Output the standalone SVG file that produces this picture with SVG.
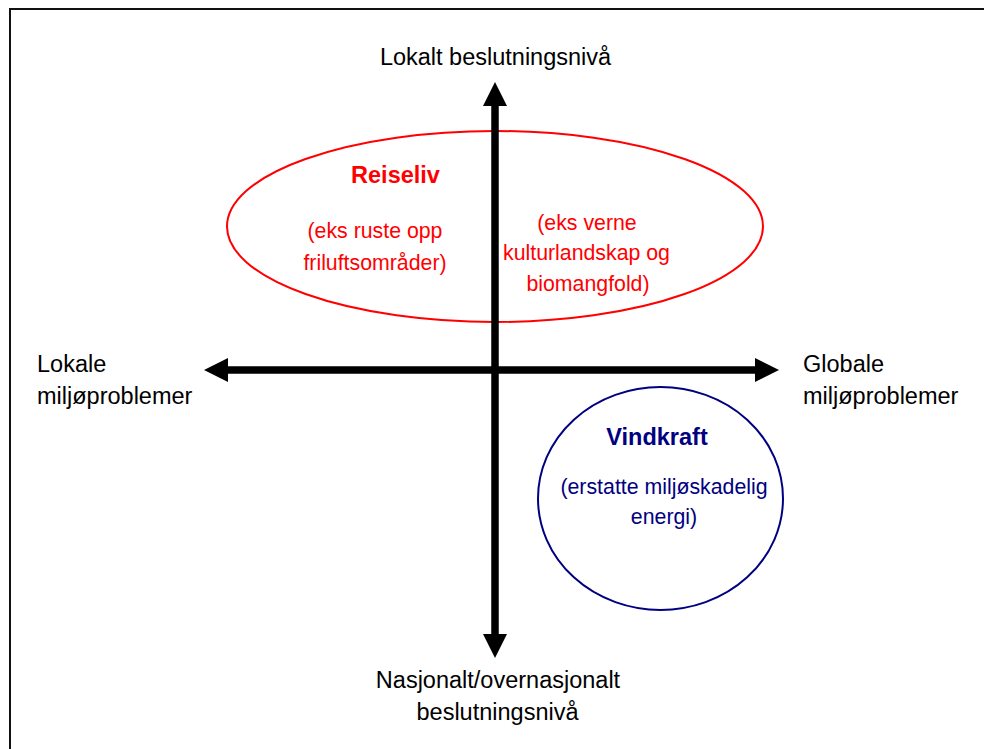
<svg xmlns="http://www.w3.org/2000/svg" width="984" height="749" viewBox="0 0 984 749">
  <style>
    text { font-family: "Liberation Sans", Arial, sans-serif; }
    .axis { font-size: 23.5px; fill: #000; }
    .red { fill: #FF0000; font-size: 21.3px; }
    .blue { fill: #000080; font-size: 21.3px; }
    .title { font-weight: bold; font-size: 23.5px; }
    .mid { text-anchor: middle; }
    .axisline { stroke: #000; stroke-width: 7.5; fill: none; }
  </style>
  <defs>
    <marker id="head" viewBox="0 0 24 24" markerWidth="24" markerHeight="24" refX="0" refY="12" markerUnits="userSpaceOnUse" orient="auto-start-reverse">
      <path d="M0,0 L24,12 L0,24 Z" fill="#000"/>
    </marker>
  </defs>
  <rect x="0" y="0" width="984" height="749" fill="#fff"/>
  <rect id="frame" x="10" y="9" width="1000" height="780" fill="none" stroke="#111" stroke-width="2"/>

  <g id="reiseliv">
    <ellipse cx="495" cy="226.5" rx="268" ry="95.5" fill="none" stroke="#FF0000" stroke-width="2"/>
    <text class="red title mid" x="395.5" y="183">Reiseliv</text>
    <text class="red mid" x="375" y="238">(eks ruste opp</text>
    <text class="red mid" x="375" y="270">friluftsområder)</text>
    <text class="red mid" x="587" y="230">(eks verne</text>
    <text class="red mid" x="586.5" y="260">kulturlandskap og</text>
    <text class="red mid" x="588" y="291">biomangfold)</text>
  </g>

  <g id="vindkraft">
    <ellipse cx="660.5" cy="498.5" rx="122.5" ry="111.5" fill="none" stroke="#000080" stroke-width="2"/>
    <text class="blue title mid" x="657" y="445">Vindkraft</text>
    <text class="blue mid" x="664" y="494">(erstatte miljøskadelig</text>
    <text class="blue mid" x="664" y="524">energi)</text>
  </g>

  <g id="connectors">
    <line class="axisline" x1="228" y1="370" x2="755" y2="370" marker-start="url(#head)" marker-end="url(#head)"/>
    <line class="axisline" x1="495" y1="106" x2="495" y2="634" marker-start="url(#head)" marker-end="url(#head)"/>
  </g>

  <g id="label-top">
    <text class="axis mid" x="495.5" y="65">Lokalt beslutningsnivå</text>
  </g>
  <g id="label-left">
    <text class="axis" x="37" y="372">Lokale</text>
    <text class="axis" x="37" y="404">miljøproblemer</text>
  </g>
  <g id="label-right">
    <text class="axis" x="803" y="372">Globale</text>
    <text class="axis" x="803" y="404">miljøproblemer</text>
  </g>
  <g id="label-bottom">
    <text class="axis mid" x="498" y="688">Nasjonalt/overnasjonalt</text>
    <text class="axis mid" x="497.5" y="720">beslutningsnivå</text>
  </g>
</svg>
